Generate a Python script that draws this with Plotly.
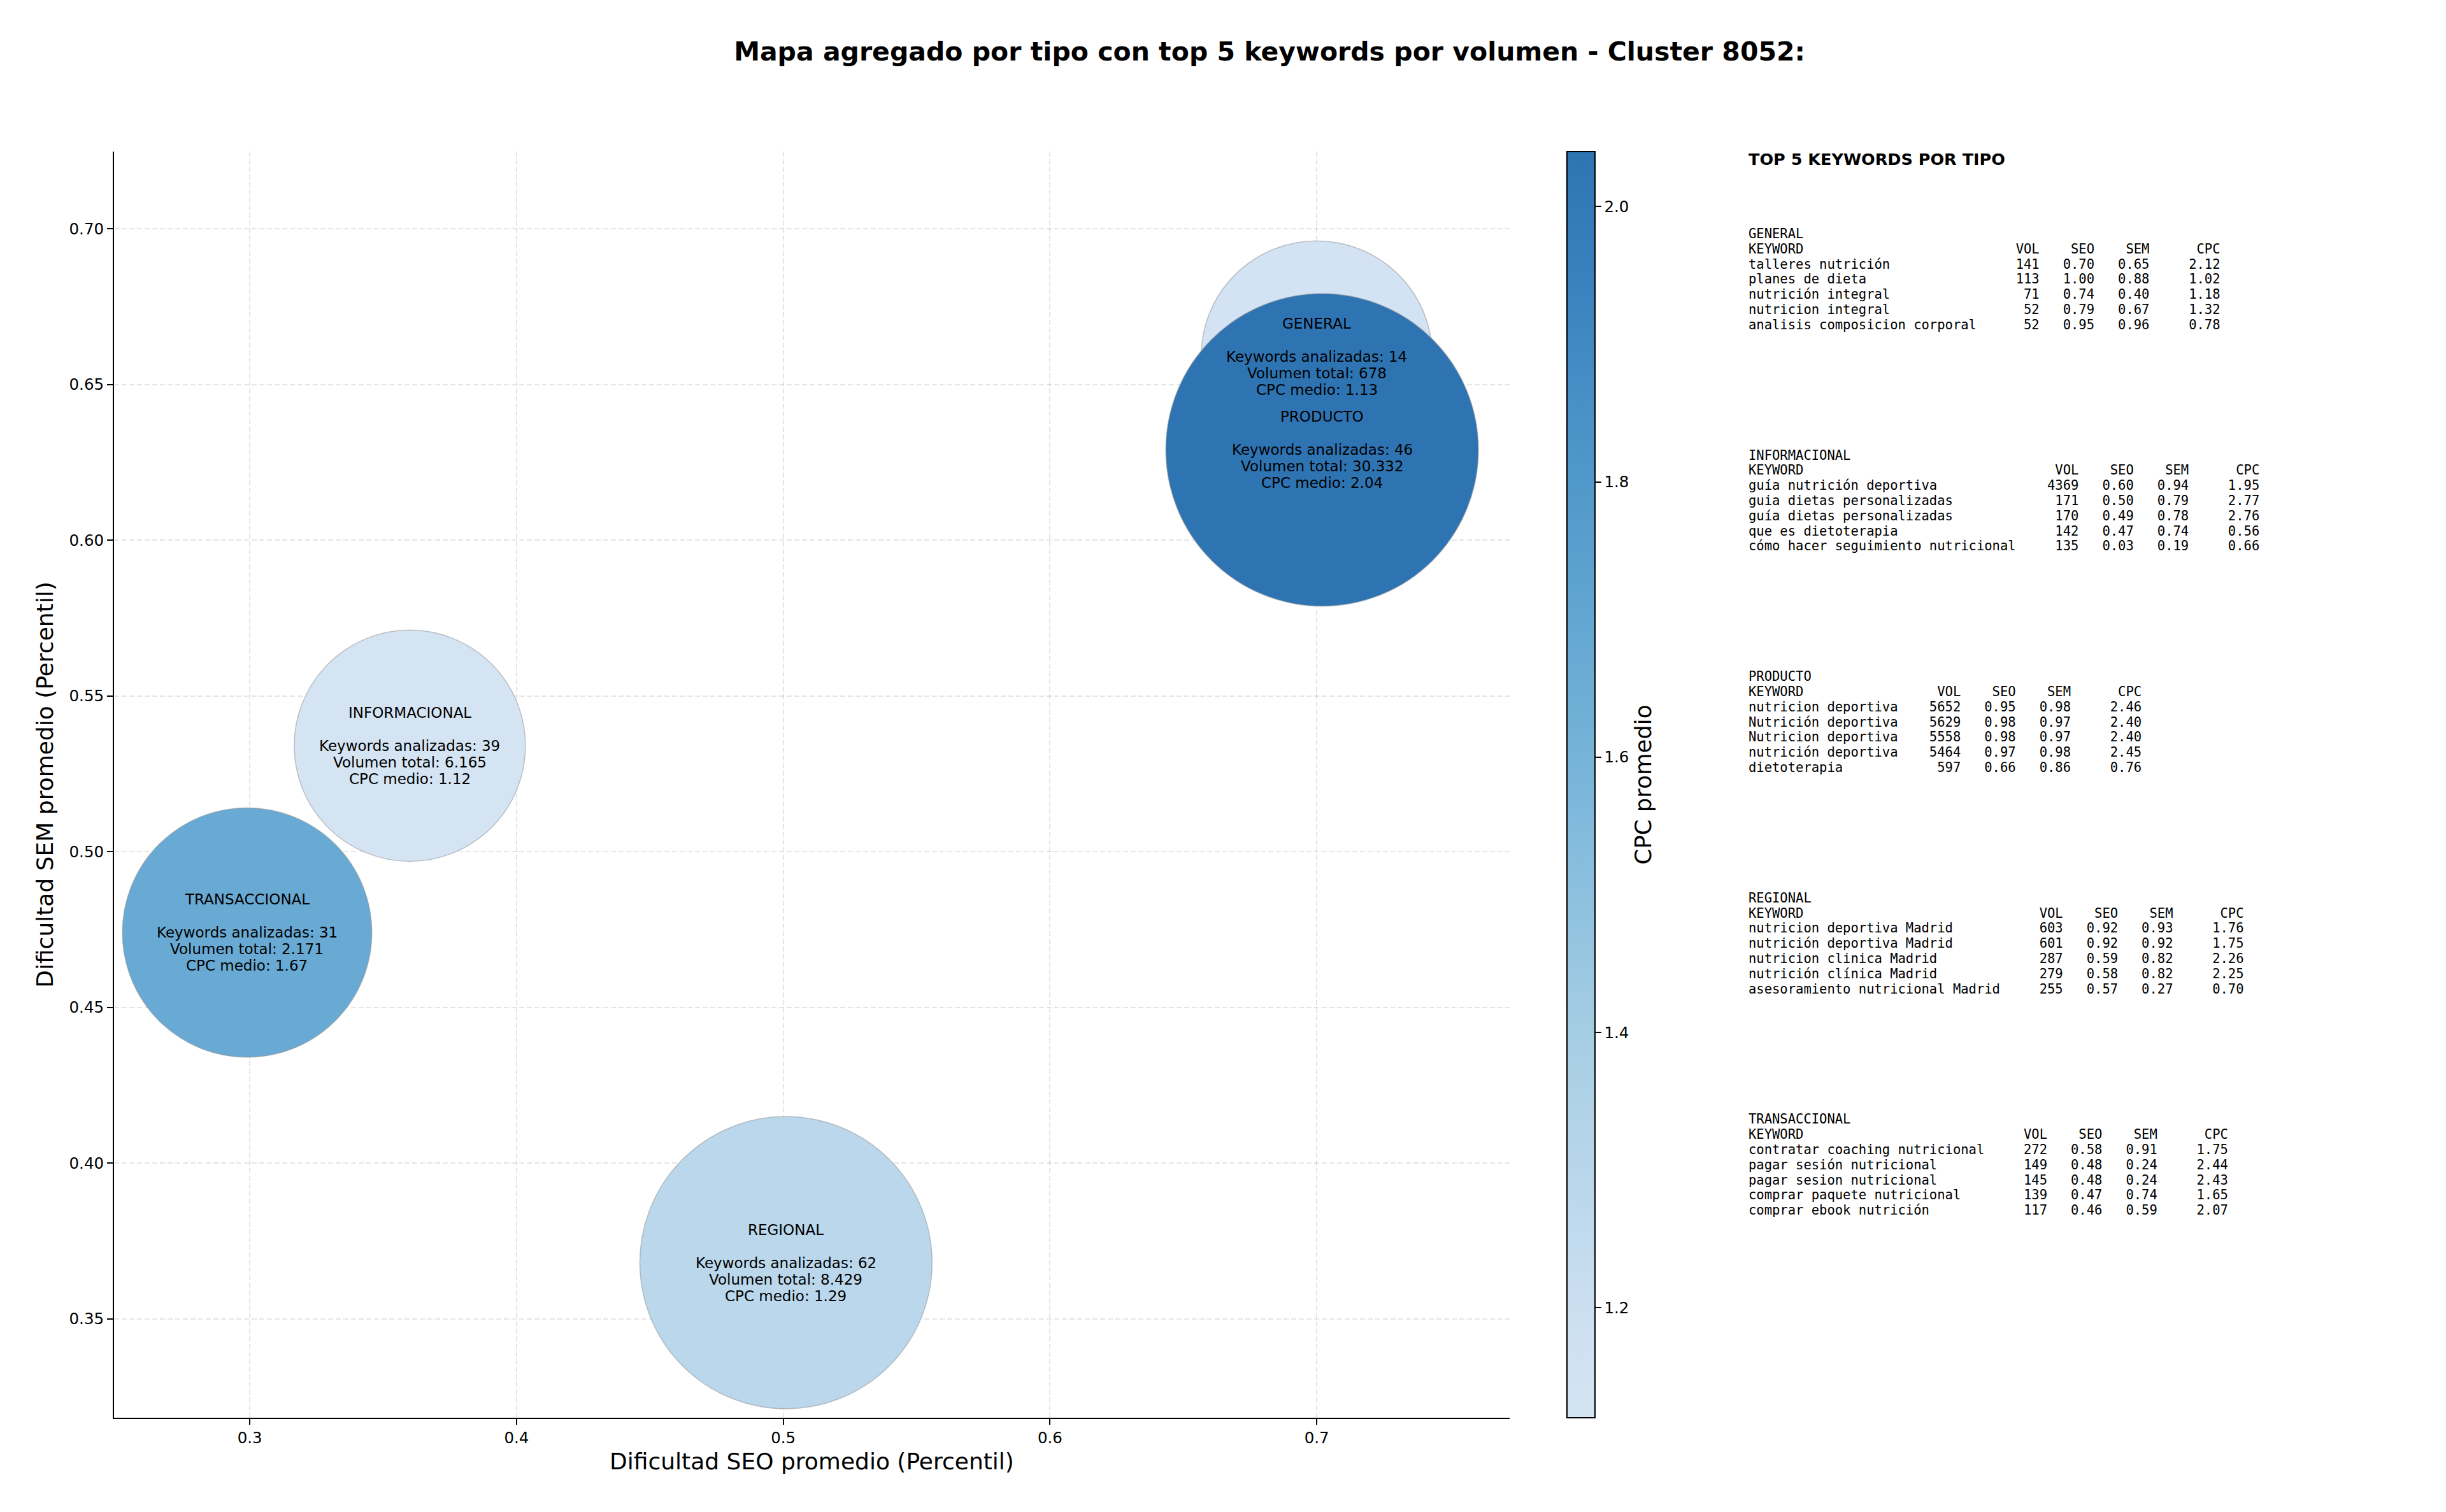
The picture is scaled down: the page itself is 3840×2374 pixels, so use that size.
import math
import plotly.graph_objects as go

# Aggregated data per keyword type
tipos = ["GENERAL", "INFORMACIONAL", "PRODUCTO", "REGIONAL", "TRANSACCIONAL"]
seo_medio = [0.700, 0.360, 0.702, 0.501, 0.299]
sem_medio = [0.659, 0.534, 0.629, 0.368, 0.474]
cpc_medio = [1.13, 1.12, 2.04, 1.29, 1.67]
n_keywords = [14, 39, 46, 62, 31]
volumen_total = [678, 6165, 30332, 8429, 2171]
# relative bubble area
area_burbuja = [3300, 3300, 6030, 5270, 3840]

# Top 5 keywords per type: keyword, volume, seo, sem, cpc
top_general = [
    ("talleres nutrición", 141, 0.70, 0.65, 2.12),
    ("planes de dieta", 113, 1.00, 0.88, 1.02),
    ("nutrición integral", 71, 0.74, 0.40, 1.18),
    ("nutricion integral", 52, 0.79, 0.67, 1.32),
    ("analisis composicion corporal", 52, 0.95, 0.96, 0.78),
]
top_informacional = [
    ("guía nutrición deportiva", 4369, 0.60, 0.94, 1.95),
    ("guia dietas personalizadas", 171, 0.50, 0.79, 2.77),
    ("guía dietas personalizadas", 170, 0.49, 0.78, 2.76),
    ("que es dietoterapia", 142, 0.47, 0.74, 0.56),
    ("cómo hacer seguimiento nutricional", 135, 0.03, 0.19, 0.66),
]
top_producto = [
    ("nutricion deportiva", 5652, 0.95, 0.98, 2.46),
    ("Nutrición deportiva", 5629, 0.98, 0.97, 2.40),
    ("Nutricion deportiva", 5558, 0.98, 0.97, 2.40),
    ("nutrición deportiva", 5464, 0.97, 0.98, 2.45),
    ("dietoterapia", 597, 0.66, 0.86, 0.76),
]
top_regional = [
    ("nutricion deportiva Madrid", 603, 0.92, 0.93, 1.76),
    ("nutrición deportiva Madrid", 601, 0.92, 0.92, 1.75),
    ("nutricion clinica Madrid", 287, 0.59, 0.82, 2.26),
    ("nutrición clínica Madrid", 279, 0.58, 0.82, 2.25),
    ("asesoramiento nutricional Madrid", 255, 0.57, 0.27, 0.70),
]
top_transaccional = [
    ("contratar coaching nutricional", 272, 0.58, 0.91, 1.75),
    ("pagar sesión nutricional", 149, 0.48, 0.24, 2.44),
    ("pagar sesion nutricional", 145, 0.48, 0.24, 2.43),
    ("comprar paquete nutricional", 139, 0.47, 0.74, 1.65),
    ("comprar ebook nutrición", 117, 0.46, 0.59, 2.07),
]
tops = [top_general, top_informacional, top_producto, top_regional, top_transaccional]

# the page body has an 8px margin, so the figure is shrunk by that much
OFF = 8
W, H = 3840 - OFF, 2374 - OFF
FONT = "DejaVu Sans"
MONO = "DejaVu Sans Mono"


def px(xp):
    return (xp - OFF) / W


def py(yp):
    return 1 - (yp - OFF) / H


# Blues colormap, truncated to 0.2-0.8 and drawn at alpha 0.9 over white
blues = [
    (0.0, (247, 251, 255)), (0.125, (222, 235, 247)), (0.25, (198, 219, 239)),
    (0.375, (158, 202, 225)), (0.5, (107, 174, 214)), (0.625, (66, 146, 198)),
    (0.75, (33, 113, 181)), (0.875, (8, 81, 156)), (1.0, (8, 48, 107)),
]


def blues_at(t):
    for (t0, c0), (t1, c1) in zip(blues[:-1], blues[1:]):
        if t0 <= t <= t1:
            f = (t - t0) / (t1 - t0)
            return [c0[k] + f * (c1[k] - c0[k]) for k in range(3)]
    return list(blues[-1][1])


colorscale = []
for i in range(13):
    s = i / 12
    rgb = [0.9 * v + 0.1 * 255 for v in blues_at(0.2 + 0.6 * s)]
    colorscale.append([s, "rgb(%d,%d,%d)" % tuple(round(v) for v in rgb)])


def miles(v):
    return f"{v:,}".replace(",", ".")


fig = go.Figure()

fig.add_trace(
    go.Scatter(
        x=seo_medio,
        y=sem_medio,
        mode="markers",
        marker=dict(
            size=[6.32 * math.sqrt(a) for a in area_burbuja],
            sizemode="diameter",
            color=cpc_medio,
            colorscale=colorscale,
            cmin=min(cpc_medio),
            cmax=max(cpc_medio),
            opacity=1,
            line=dict(width=1.5, color="rgba(150,150,150,0.55)"),
            colorbar=dict(
                xref="paper", yref="paper",
                x=px(2460), xanchor="left", xpad=0,
                y=py(2226), yanchor="bottom", ypad=0,
                len=(2226 - 238) / H, lenmode="fraction",
                thickness=44, thicknessmode="pixels",
                outlinewidth=2, outlinecolor="black",
                ticks="outside", ticklen=9, tickwidth=2, tickcolor="black",
                tickvals=[1.2, 1.4, 1.6, 1.8, 2.0], tickformat=".1f",
                tickfont=dict(family=FONT, size=24.5, color="black"),
                title=dict(text="CPC promedio", side="right",
                           font=dict(family=FONT, size=35.5, color="black")),
            ),
        ),
        hoverinfo="skip",
        showlegend=False,
    )
)

# Labels inside the bubbles, one annotation per line
for i, tipo in enumerate(tipos):
    lineas = [
        tipo,
        "",
        f"Keywords analizadas: {n_keywords[i]}",
        f"Volumen total: {miles(volumen_total[i])}",
        f"CPC medio: {cpc_medio[i]:.2f}",
    ]
    for j, txt in enumerate(lineas):
        if not txt:
            continue
        fig.add_annotation(
            x=seo_medio[i], y=sem_medio[i], xref="x", yref="y",
            text=txt, showarrow=False, yshift=(2 - j) * 26,
            font=dict(family=FONT, size=23, color="black"),
        )

# Right-hand text panel
fig.add_annotation(
    xref="paper", yref="paper", x=px(2743), y=py(250),
    xanchor="left", yanchor="middle", showarrow=False,
    text="<b>TOP 5 KEYWORDS POR TIPO</b>",
    font=dict(family=FONT, size=25.5, color="black"),
)

for i, tipo in enumerate(tipos):
    filas = tops[i]
    w = max(len(f[0]) for f in filas)
    lineas = [tipo, f"{'KEYWORD':<{w}}{'VOL':>8}{'SEO':>7}{'SEM':>7}{'CPC':>9}"]
    for kw, vol, seo, sem, cpc in filas:
        lineas.append(f"{kw:<{w}}{vol:>8}{seo:>7.2f}{sem:>7.2f}{cpc:>9.2f}")
    y0 = 367 + i * 347.6
    for j, txt in enumerate(lineas):
        fig.add_annotation(
            xref="paper", yref="paper", x=px(2743), y=py(y0 + j * 23.8),
            xanchor="left", yanchor="middle", showarrow=False,
            text=txt.replace(" ", "\u00a0"),
            font=dict(family=MONO, size=20.5, color="black"),
        )

axis_common = dict(
    showline=True, linecolor="black", linewidth=2, mirror=False,
    ticks="outside", ticklen=9, tickwidth=2, tickcolor="black",
    showgrid=True, gridcolor="rgba(0,0,0,0.1)", gridwidth=2, griddash="8px,4px",
    zeroline=False,
    tickfont=dict(family=FONT, size=24.5, color="black"),
)

fig.update_layout(
    width=W, height=H,
    margin=dict(l=0, r=0, t=0, b=0),
    paper_bgcolor="white", plot_bgcolor="white",
    font=dict(family=FONT, color="black"),
    title=dict(
        text="<b>Mapa agregado por tipo con top 5 keywords por volumen - Cluster 8052:</b>",
        x=px(1993), xanchor="center", y=py(81), yanchor="middle",
        font=dict(family=FONT, size=41, color="black"),
    ),
    xaxis=dict(
        axis_common,
        domain=[px(179), px(2370)],
        range=[0.2491, 0.7723],
        tickvals=[0.3, 0.4, 0.5, 0.6, 0.7], tickformat=".1f",
        title=dict(text="Dificultad SEO promedio (Percentil)", standoff=10,
                   font=dict(family=FONT, size=36, color="black")),
    ),
    yaxis=dict(
        axis_common,
        domain=[py(2226), py(238)],
        range=[0.3182, 0.7248],
        tickvals=[0.35, 0.40, 0.45, 0.50, 0.55, 0.60, 0.65, 0.70], tickformat=".2f",
        title=dict(text="Dificultad SEM promedio (Percentil)", standoff=14,
                   font=dict(family=FONT, size=36, color="black")),
    ),
)

fig.write_html("out.html")
